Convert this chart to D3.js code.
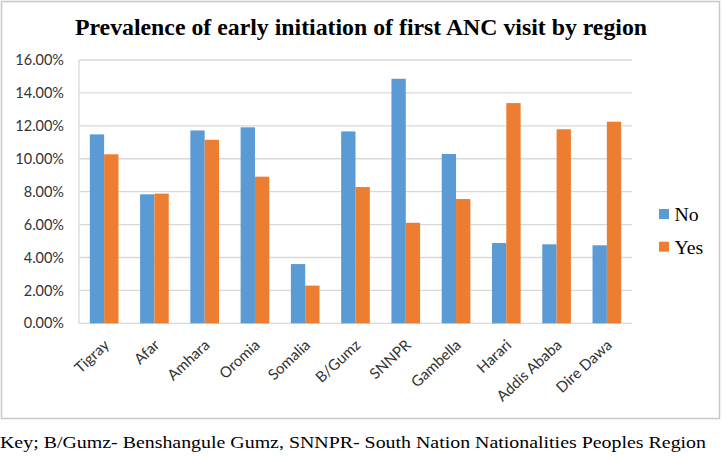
<!DOCTYPE html>
<html><head><meta charset="utf-8">
<script src="https://cdn.jsdelivr.net/npm/d3@7"></script>
<style>body{margin:0;background:#fff}svg{display:block}</style>
</head><body>
<script>
const categories = ["Tigray","Afar","Amhara","Oromia","Somalia","B/Gumz","SNNPR","Gambella","Harari","Addis Ababa","Dire Dawa"];
const seriesNames = ["No","Yes"];
const noValues  = [11.48, 7.84, 11.72, 11.91, 3.60, 11.66, 14.86, 10.29, 4.88, 4.80, 4.74];
const yesValues = [10.27, 7.88, 11.15, 8.91, 2.29, 8.28, 6.11, 7.55, 13.38, 11.79, 12.25];
const yTicks = [0,2,4,6,8,10,12,14,16];
const colors = ["#5B9BD5","#ED7D31"];
const title = "Prevalence of early initiation of first ANC visit by region";
const footnote = "Key; B/Gumz- Benshangule Gumz, SNNPR- South Nation Nationalities Peoples Region";

const SERIF="'Liberation Serif','Times New Roman',Times,serif";
const SANS="Lato,'Open Sans',sans-serif";
const W=722,H=457;
const svg=d3.select("body").append("svg").attr("width",W).attr("height",H);
svg.append("rect").attr("x",1.5).attr("y",1.5).attr("width",718).attr("height",417)
  .attr("fill","#fff").attr("stroke","#c8c8c8").attr("stroke-width",1.5);

const L=79,R=632,T=60,B=323.3;
const x=d3.scaleBand().domain(categories).range([L,R]).paddingInner(0.43).paddingOuter(0.215);
const x1=d3.scaleBand().domain(seriesNames).range([0,x.bandwidth()]);
const y=d3.scaleLinear().domain([0,16]).range([B,T]);

svg.append("g").selectAll("line").data(yTicks).join("line")
  .attr("x1",L).attr("x2",R).attr("y1",d=>y(d)).attr("y2",d=>y(d))
  .attr("stroke","#d9d9d9").attr("stroke-width",1.3);
svg.append("line").attr("x1",L).attr("x2",L).attr("y1",T).attr("y2",B).attr("stroke","#d9d9d9").attr("stroke-width",1.3);

const yAxis=d3.axisLeft(y).tickValues(yTicks).tickSize(0).tickPadding(15).tickFormat(d=>d.toFixed(2)+"%");
const ya=svg.append("g").attr("transform",`translate(${L},0)`).call(yAxis);
ya.select(".domain").remove();
ya.selectAll("text").attr("font-family",SANS).attr("font-size",14.5).attr("fill","#333");

const data=categories.map((c,i)=>({c,vals:[noValues[i],yesValues[i]]}));
const g=svg.append("g").selectAll("g").data(data).join("g").attr("transform",d=>`translate(${x(d.c)},0)`);
g.selectAll("rect").data(d=>d.vals.map((v,j)=>({v,s:seriesNames[j],j}))).join("rect")
  .attr("x",d=>x1(d.s)).attr("width",x1.bandwidth())
  .attr("y",d=>y(d.v)).attr("height",d=>B-y(d.v)).attr("fill",d=>colors[d.j]);

const xa=svg.append("g").attr("transform",`translate(0,${B})`).call(d3.axisBottom(x).tickSize(0).tickPadding(0));
xa.select(".domain").remove();
xa.selectAll("text").attr("font-family",SANS).attr("font-size",15).attr("fill","#333")
  .attr("text-anchor","end").attr("dy",null).attr("y",0).attr("x",0)
  .attr("transform","translate(6,23) rotate(-43)");

svg.append("text").attr("x",361).attr("y",35).attr("text-anchor","middle")
  .attr("font-family",SERIF).attr("font-weight","bold").attr("font-size",23.8).attr("fill","#000").text(title);

const lg=svg.append("g").selectAll("g").data(seriesNames).join("g").attr("transform",(d,i)=>`translate(659,${209+i*32.7})`);
lg.append("rect").attr("width",10).attr("height",10).attr("fill",(d,i)=>colors[i]);
lg.append("text").attr("x",14).attr("y",12).attr("font-family",SERIF).attr("font-size",18)
  .attr("transform","scale(1.1,1)").attr("fill","#000").text(d=>d);

svg.append("text").attr("x",0).attr("y",448).attr("font-family",SERIF).attr("font-size",17.5)
  .attr("textLength",706).attr("lengthAdjust","spacingAndGlyphs").attr("fill","#000").text(footnote);
</script>
</body></html>
